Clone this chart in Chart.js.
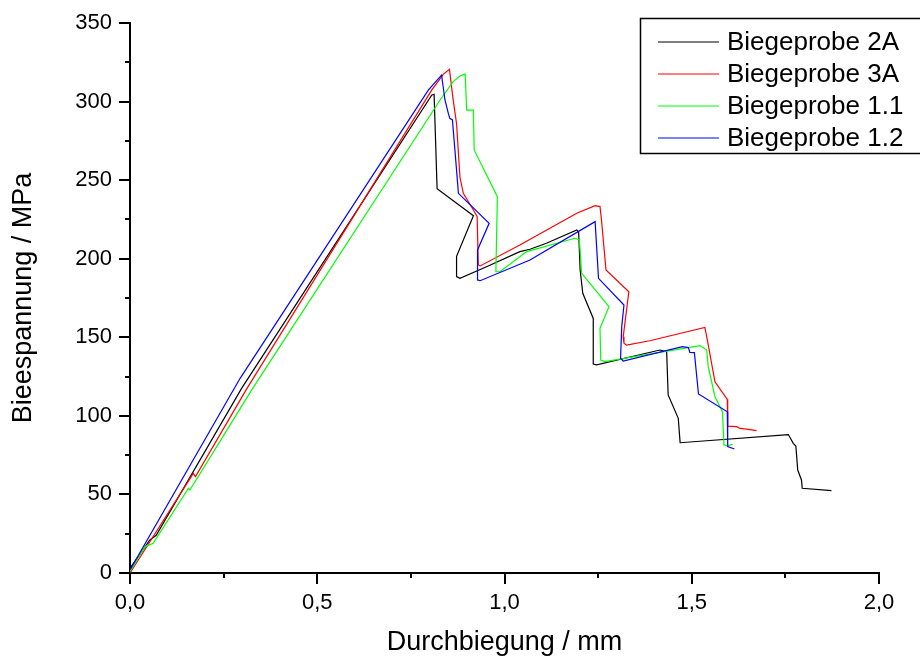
<!DOCTYPE html>
<html lang="de">
<head>
  <meta charset="UTF-8">
  <title>Biegeproben</title>
  <script src="https://cdn.jsdelivr.net/npm/chart.js"></script>
  <style>
    body { margin: 0; background: #fff; }
  </style>
</head>
<body>
  <canvas id="biegeChart" width="920" height="659"></canvas>

  <script>
    const seriesNames = ['Biegeprobe 2A', 'Biegeprobe 3A', 'Biegeprobe 1.1', 'Biegeprobe 1.2'];
    const seriesColors = ['#000000', '#ff0000', '#00ff00', '#0000ff'];

    const p2A_x = [0, 0.053, 0.07, 0.298, 0.806, 0.812, 0.820, 0.917, 0.872, 0.872, 0.881, 0.952, 1.041, 1.068, 1.112, 1.193, 1.198, 1.202, 1.209, 1.237, 1.237, 1.246, 1.415, 1.433, 1.437, 1.464, 1.469, 1.758, 1.771, 1.778, 1.783, 1.793, 1.795, 1.873];
    const p2A_y = [3, 21, 24, 117.5, 304.2, 304.6, 244.6, 227.4, 201.5, 188.6, 187.5, 194.9, 204.5, 206, 209.8, 218.3, 217, 192.8, 178, 162, 133, 132.4, 141.9, 140.8, 113.3, 98.4, 82.9, 88.1, 82.5, 80.8, 65.5, 59.2, 53.9, 52.4];

    const p3A_x = [0, 0.169, 0.175, 0.31, 0.806, 0.837, 0.853, 0.863, 0.872, 0.881, 0.890, 0.917, 0.927, 0.930, 0.935, 1.041, 1.193, 1.242, 1.255, 1.259, 1.271, 1.332, 1.317, 1.319, 1.326, 1.388, 1.535, 1.540, 1.562, 1.595, 1.596, 1.620, 1.629, 1.651, 1.673];
    const p3A_y = [0, 63.4, 61.3, 116.5, 307.4, 317.5, 320.5, 301, 286, 252, 241.6, 231, 226.8, 196, 195.4, 208.7, 228.9, 233.8, 233.2, 224.6, 192.8, 179, 150.4, 146.2, 145, 147.8, 156.3, 150.4, 121.7, 110.5, 93.5, 93.1, 92, 91.4, 90.6];

    const p11_x = [0, 0.040, 0.062, 0.156, 0.160, 0.325, 0.828, 0.863, 0.881, 0.895, 0.899, 0.917, 0.919, 0.981, 0.977, 0.988, 1.059, 1.188, 1.200, 1.206, 1.279, 1.255, 1.257, 1.268, 1.522, 1.540, 1.544, 1.562, 1.582, 1.586, 1.595, 1.609];
    const p11_y = [1, 16.8, 18.9, 53.9, 52.8, 116.5, 301, 312.7, 316.3, 317.5, 294.6, 294.6, 269.2, 239.5, 191.7, 191.7, 204.5, 213, 212, 190.7, 169.5, 155.7, 135.5, 134.5, 144.7, 141.9, 131.3, 112.2, 102.6, 81.5, 81, 81.9];

    const p12_x = [0, 0.294, 0.797, 0.832, 0.841, 0.850, 0.854, 0.861, 0.877, 0.959, 0.928, 0.928, 0.935, 1.068, 1.242, 1.251, 1.319, 1.313, 1.310, 1.317, 1.475, 1.491, 1.495, 1.507, 1.518, 1.595, 1.596, 1.614];
    const p12_y = [2, 123.9, 307.4, 316.9, 301, 292.5, 289.3, 288.3, 241.6, 222.5, 205.6, 186.5, 186, 199.2, 223.6, 187.5, 170.5, 156.8, 136.6, 134.9, 144, 143.4, 140.4, 140.2, 113.9, 102.6, 80.4, 78.9];

    const xMinorTicks = [0.25, 0.75, 1.25, 1.75];
    const yMinorTicks = [25, 75, 125, 175, 225, 275, 325];

    const FONT = "'Liberation Sans', Arial, sans-serif";

    function toPoints(xs, ys) {
      return xs.map((x, i) => ({ x: x, y: ys[i] }));
    }

    const allX = [p2A_x, p3A_x, p11_x, p12_x];
    const allY = [p2A_y, p3A_y, p11_y, p12_y];

    const datasets = seriesNames.map((name, i) => ({
      label: name,
      data: toPoints(allX[i], allY[i]),
      borderColor: seriesColors[i],
      borderWidth: 1.2,
      pointRadius: 0,
      showLine: true,
      fill: false,
      order: seriesNames.length - i
    }));

    // kleine Zwischenstriche an den Achsen
    const minorTicks = {
      id: 'minorTicks',
      afterDraw(chart) {
        const ctx = chart.ctx;
        const xs = chart.scales.x, ys = chart.scales.y;
        ctx.save();
        ctx.strokeStyle = '#000';
        ctx.lineWidth = 2;
        ctx.beginPath();
        xMinorTicks.forEach(v => {
          const px = Math.round(xs.getPixelForValue(v));
          ctx.moveTo(px, xs.top);
          ctx.lineTo(px, xs.top + 5);
        });
        yMinorTicks.forEach(v => {
          const py = Math.round(ys.getPixelForValue(v));
          ctx.moveTo(ys.right, py);
          ctx.lineTo(ys.right - 5, py);
        });
        ctx.stroke();
        ctx.restore();
      }
    };

    // Legende mit Rahmen oben rechts
    const boxLegend = {
      id: 'boxLegend',
      afterDraw(chart) {
        const ctx = chart.ctx;
        ctx.save();
        ctx.fillStyle = '#fff';
        ctx.fillRect(640, 18, 290, 135);
        ctx.strokeStyle = '#000';
        ctx.lineWidth = 1.5;
        ctx.strokeRect(640.5, 18.5, 290, 135);
        ctx.font = '26px ' + FONT;
        ctx.textBaseline = 'middle';
        ctx.textAlign = 'left';
        chart.data.datasets.forEach((ds, i) => {
          const y = 42 + i * 32;
          ctx.strokeStyle = ds.borderColor;
          ctx.lineWidth = 1.2;
          ctx.beginPath();
          ctx.moveTo(658, y);
          ctx.lineTo(719, y);
          ctx.stroke();
          ctx.fillStyle = '#000';
          ctx.fillText(ds.label, 727, y + 1);
        });
        ctx.restore();
      }
    };

    new Chart(document.getElementById('biegeChart').getContext('2d'), {
      type: 'scatter',
      data: { datasets: datasets },
      plugins: [minorTicks, boxLegend],
      options: {
        responsive: false,
        animation: false,
        devicePixelRatio: 1,
        layout: { padding: { top: 23, right: 41, left: 0, bottom: 0 } },
        plugins: {
          legend: { display: false },
          tooltip: { enabled: false }
        },
        scales: {
          x: {
            type: 'linear',
            min: 0,
            max: 2,
            afterFit: s => { s.height = 86; },
            ticks: {
              stepSize: 0.5,
              padding: 6,
              color: '#000',
              font: { family: FONT, size: 22 },
              callback: v => v.toFixed(1).replace('.', ',')
            },
            grid: { drawOnChartArea: false, drawTicks: true, tickLength: 11, color: '#000', lineWidth: 2 },
            border: { display: true, color: '#000', width: 2 },
            title: {
              display: true,
              text: 'Durchbiegung / mm',
              color: '#000',
              font: { family: FONT, size: 27 },
              padding: { top: 0, bottom: 0 }
            }
          },
          y: {
            type: 'linear',
            min: 0,
            max: 350,
            afterFit: s => { s.width = 130; },
            ticks: {
              stepSize: 50,
              padding: 7,
              color: '#000',
              font: { family: FONT, size: 22 }
            },
            grid: { drawOnChartArea: false, drawTicks: true, tickLength: 11, color: '#000', lineWidth: 2 },
            border: { display: true, color: '#000', width: 2 },
            title: {
              display: true,
              text: 'Bieespannung / MPa',
              color: '#000',
              font: { family: FONT, size: 27 },
              padding: { top: 7, bottom: 0 }
            }
          }
        }
      }
    });
  </script>
</body>
</html>
